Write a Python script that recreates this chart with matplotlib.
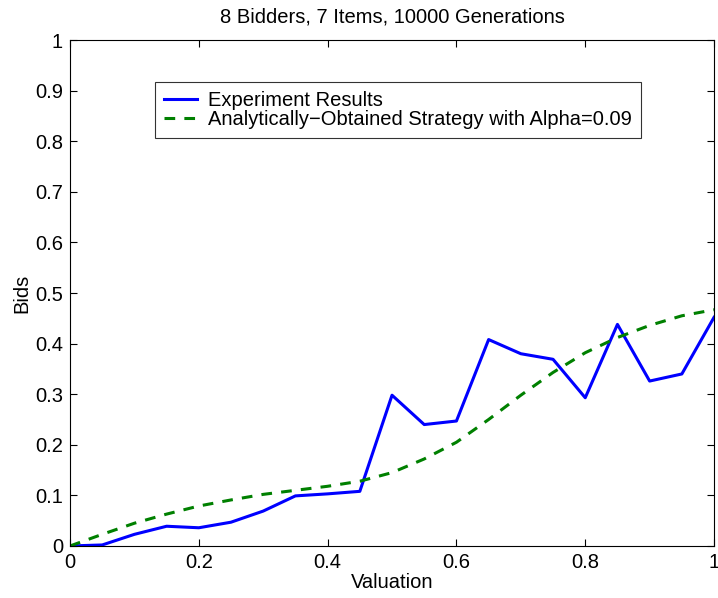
import numpy as np
import matplotlib.pyplot as plt

plt.rcParams['font.family'] = ['Liberation Sans', 'DejaVu Sans']

valuation = [0.0, 0.05, 0.1, 0.15, 0.2, 0.25, 0.3, 0.35, 0.4, 0.45, 0.5,
             0.55, 0.6, 0.65, 0.7, 0.75, 0.8, 0.85, 0.9, 0.95, 1.0]
experiment = [0.0, 0.002, 0.023, 0.039, 0.036, 0.047, 0.069, 0.099, 0.103, 0.108, 0.298,
              0.240, 0.247, 0.408, 0.380, 0.369, 0.293, 0.438, 0.326, 0.340, 0.452]
analytic = [0.0, 0.023, 0.045, 0.063, 0.079, 0.091, 0.102, 0.110, 0.118, 0.128, 0.145,
            0.172, 0.205, 0.250, 0.298, 0.343, 0.382, 0.412, 0.436, 0.455, 0.467]

fig = plt.figure(figsize=(7.18, 5.98), dpi=100)
ax = fig.add_axes([0.0975, 0.087, 0.897, 0.846])

ax.plot(valuation, experiment, color='#0000ff', lw=2.2, label='Experiment Results')
ax.plot(valuation, analytic, color='#008000', lw=2.2, ls=(0, (3.5, 3)),
        label='Analytically\u2212Obtained Strategy with Alpha=0.09')

ax.set_xlim(0, 1)
ax.set_ylim(0, 1)
ax.set_xticks(np.arange(0, 1.01, 0.2))
ax.set_xticklabels(['0', '0.2', '0.4', '0.6', '0.8', '1'])
ax.set_yticks(np.arange(0, 1.01, 0.1))
ax.set_yticklabels(['0', '0.1', '0.2', '0.3', '0.4', '0.5', '0.6', '0.7', '0.8', '0.9', '1'])
ax.tick_params(direction='in', top=True, right=True, labelsize=14.5, length=5, pad=5)
ax.set_xlabel('Valuation', fontsize=14.5, labelpad=1)
ax.set_ylabel('Bids', fontsize=14.5, labelpad=3)
ax.set_title('8 Bidders, 7 Items, 10000 Generations', fontsize=14.5, pad=13)

leg = ax.legend(loc='upper left', bbox_to_anchor=(0.132, 0.918), fontsize=14.5,
                frameon=True, fancybox=False, edgecolor='black', borderpad=0.45,
                labelspacing=0.02, handlelength=1.65, handletextpad=0.55,
                borderaxespad=0)
leg.get_frame().set_linewidth(0.8)

fig.savefig('out.png', dpi=100)
